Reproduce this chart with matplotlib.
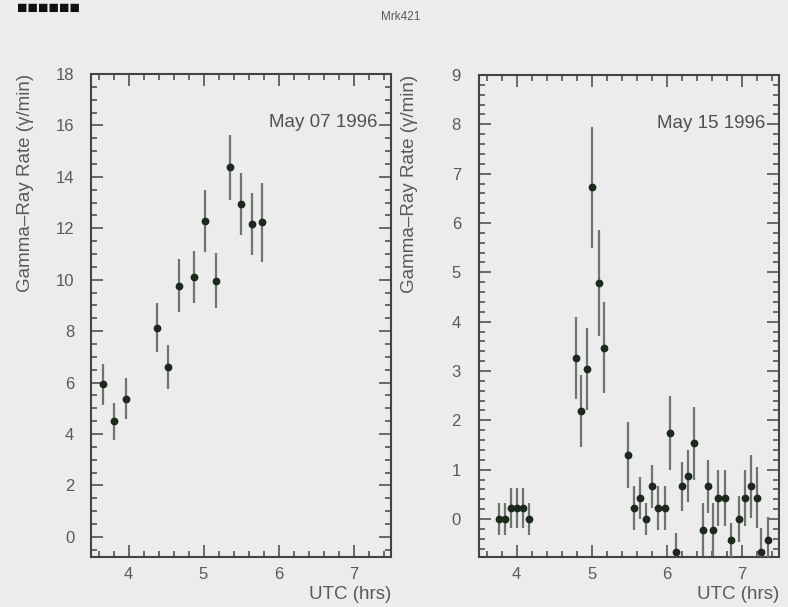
import matplotlib
matplotlib.use("Agg")
import matplotlib.pyplot as plt
from matplotlib.ticker import MultipleLocator

plt.rcParams['font.family'] = ['Liberation Sans', 'DejaVu Sans']

# May 07 1996
may07_t = [3.66, 3.81, 3.96, 4.38, 4.53, 4.67, 4.87, 5.02, 5.16, 5.35, 5.50, 5.65, 5.78]
may07_rate = [5.94, 4.49, 5.38, 8.13, 6.60, 9.77, 10.09, 12.27, 9.96, 14.37, 12.94, 12.18, 12.23]
may07_err = [0.80, 0.72, 0.78, 0.95, 0.86, 1.02, 1.01, 1.20, 1.07, 1.27, 1.21, 1.20, 1.53]

# May 15 1996
may15_t = [3.77, 3.85, 3.93, 4.00, 4.08, 4.17,
           4.79, 4.86, 4.94, 5.01, 5.10, 5.17,
           5.49, 5.57, 5.64, 5.72, 5.80, 5.88, 5.98, 6.05, 6.13,
           6.21, 6.29, 6.36, 6.48, 6.55, 6.62, 6.69, 6.78, 6.86,
           6.96, 7.04, 7.12, 7.20, 7.26, 7.35]
may15_rate = [0.0, 0.0, 0.22, 0.22, 0.22, 0.0,
              3.26, 2.18, 3.04, 6.72, 4.78, 3.47,
              1.30, 0.22, 0.43, 0.0, 0.66, 0.22, 0.22, 1.74, -0.66,
              0.66, 0.87, 1.54, -0.22, 0.66, -0.22, 0.43, 0.43, -0.43,
              0.0, 0.43, 0.66, 0.43, -0.66, -0.43]
may15_err = [0.33, 0.33, 0.40, 0.40, 0.40, 0.33,
             0.83, 0.73, 0.84, 1.22, 1.07, 0.92,
             0.67, 0.44, 0.43, 0.33, 0.44, 0.44, 0.44, 0.75, 0.38,
             0.50, 0.52, 0.74, 0.54, 0.54, 0.54, 0.57, 0.57, 0.35,
             0.47, 0.57, 0.63, 0.62, 0.47, 0.48]

bg = '#ececec'
txt = '#5a5a5a'
ax_col = '#444444'

fig = plt.figure(figsize=(7.88, 6.07), dpi=100, facecolor=bg)
ax1 = fig.add_axes([0.1155, 0.0824, 0.3807, 0.7957])
ax2 = fig.add_axes([0.6079, 0.0824, 0.3807, 0.7940])


def style_panel(ax, ylim, ymaj, ymin, label, lab_x, ypad):
    ax.set_facecolor(bg)
    ax.set_xlim(3.5, 7.5)
    ax.set_ylim(*ylim)
    ax.xaxis.set_major_locator(MultipleLocator(1))
    ax.xaxis.set_minor_locator(MultipleLocator(0.2))
    ax.yaxis.set_major_locator(MultipleLocator(ymaj))
    ax.yaxis.set_minor_locator(MultipleLocator(ymin))
    ax.tick_params(which='both', direction='in', top=True, right=True,
                   colors=ax_col, labelcolor=txt, labelsize=12, width=1.1)
    ax.tick_params(which='major', length=8.5)
    ax.tick_params(which='minor', length=4.3)
    ax.tick_params(axis='x', which='major', pad=7)
    ax.tick_params(axis='y', which='major', pad=ypad)
    for s in ax.spines.values():
        s.set_color(ax_col)
        s.set_linewidth(1.5)
    ax.set_ylabel('Gamma–Ray Rate (γ/min)', loc='top', color=txt, fontsize=13.5)
    ax.yaxis.set_label_coords(lab_x, 1.0)
    ax.set_xlabel('UTC (hrs)', loc='right', color=txt, fontsize=13.5, labelpad=3)
    ax.text(0.955, 0.90, label, transform=ax.transAxes, ha='right', va='center',
            color='#505050', fontsize=13.5)


style_panel(ax1, (-0.78, 18), 2, 0.5, 'May 07 1996', -0.19, 12)
style_panel(ax2, (-0.77, 9), 1, 0.2, 'May 15 1996', -0.205, 13)

for ax, t, r, e in [(ax1, may07_t, may07_rate, may07_err),
                    (ax2, may15_t, may15_rate, may15_err)]:
    ax.errorbar(t, r, yerr=e, fmt='o', color='#1c2a1c', ecolor='#6e746e',
                elinewidth=1.6, markersize=4.6, capsize=0, zorder=3)

fig.text(0.508, 0.972, 'Mrk421', ha='center', va='center', color=txt, fontsize=8.5)
fig.text(0.022, 0.999, '■■■■■■', ha='left', va='top', color='#111111',
         fontsize=12.5)

fig.savefig('out.png', dpi=100, facecolor=bg)
